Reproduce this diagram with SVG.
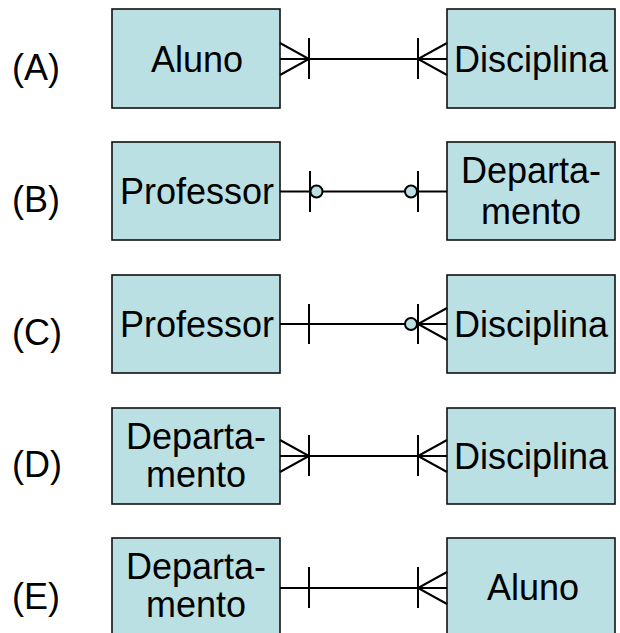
<svg xmlns="http://www.w3.org/2000/svg" width="620" height="633" viewBox="0 0 620 633">
<style>
.box{fill:#BAE0E3;stroke:#111;stroke-width:1.6}
.t{font-family:"Liberation Sans",Arial,sans-serif;font-size:36px;fill:#000;text-anchor:middle}
.lbl{font-family:"Liberation Sans",Arial,sans-serif;font-size:36px;fill:#000}
.ln{stroke:#000;stroke-width:2;fill:none}
.c{fill:#BAE0E3;stroke:#000;stroke-width:2}
</style>
<rect width="620" height="633" fill="#fff"/>
<g id="labels">
<text class="lbl" x="12" y="80">(A)</text>
<text class="lbl" x="12" y="212">(B)</text>
<text class="lbl" x="12" y="345">(C)</text>
<text class="lbl" x="12" y="477">(D)</text>
<text class="lbl" x="12" y="609">(E)</text>
</g>
<g id="A-Aluno"><rect class="box" x="112" y="9" width="168" height="99"/><text class="t" x="197" y="72">Aluno</text></g>
<g id="A-Disciplina"><rect class="box" x="447" y="9" width="168" height="99"/><text class="t" x="531" y="72">Disciplina</text></g>
<g id="B-Professor"><rect class="box" x="112" y="142" width="168" height="98"/><text class="t" x="197" y="204">Professor</text></g>
<g id="B-Departamento"><rect class="box" x="447" y="142" width="168" height="98"/><text class="t" x="531" y="183">Departa-</text><text class="t" x="531" y="224">mento</text></g>
<g id="C-Professor"><rect class="box" x="112" y="275" width="168" height="98"/><text class="t" x="197" y="337">Professor</text></g>
<g id="C-Disciplina"><rect class="box" x="447" y="275" width="168" height="98"/><text class="t" x="531" y="337">Disciplina</text></g>
<g id="D-Departamento"><rect class="box" x="112" y="408" width="168" height="96"/><text class="t" x="196" y="449">Departa-</text><text class="t" x="196" y="487">mento</text></g>
<g id="D-Disciplina"><rect class="box" x="447" y="408" width="168" height="96"/><text class="t" x="531" y="469">Disciplina</text></g>
<g id="E-Departamento"><rect class="box" x="112" y="538" width="168" height="110"/><text class="t" x="196" y="579">Departa-</text><text class="t" x="196" y="617">mento</text></g>
<g id="E-Aluno"><rect class="box" x="447" y="538" width="168" height="110"/><text class="t" x="533" y="600">Aluno</text></g>
<g id="connectors">
<path class="ln" d="M280 59H447M280 43L309 59L280 75M309 38V79M447 43L418 59L447 75M418 38V79"/>
<path class="ln" d="M280 191.5H447M310 171V212M418 171V212"/>
<circle class="c" cx="316.5" cy="191.5" r="6"/>
<circle class="c" cx="411" cy="191.5" r="6"/>
<path class="ln" d="M280 324H447M309 304V344M447 308L418 324L447 340M418 304V344"/>
<circle class="c" cx="411" cy="324" r="6"/>
<path class="ln" d="M280 456H447M280 440L309 456L280 472M309 435V476M447 440L418 456L447 472M418 435V476"/>
<path class="ln" d="M280 588H447M309 567V608M447 572L418 588L447 604M418 567V608"/>
</g>
</svg>
